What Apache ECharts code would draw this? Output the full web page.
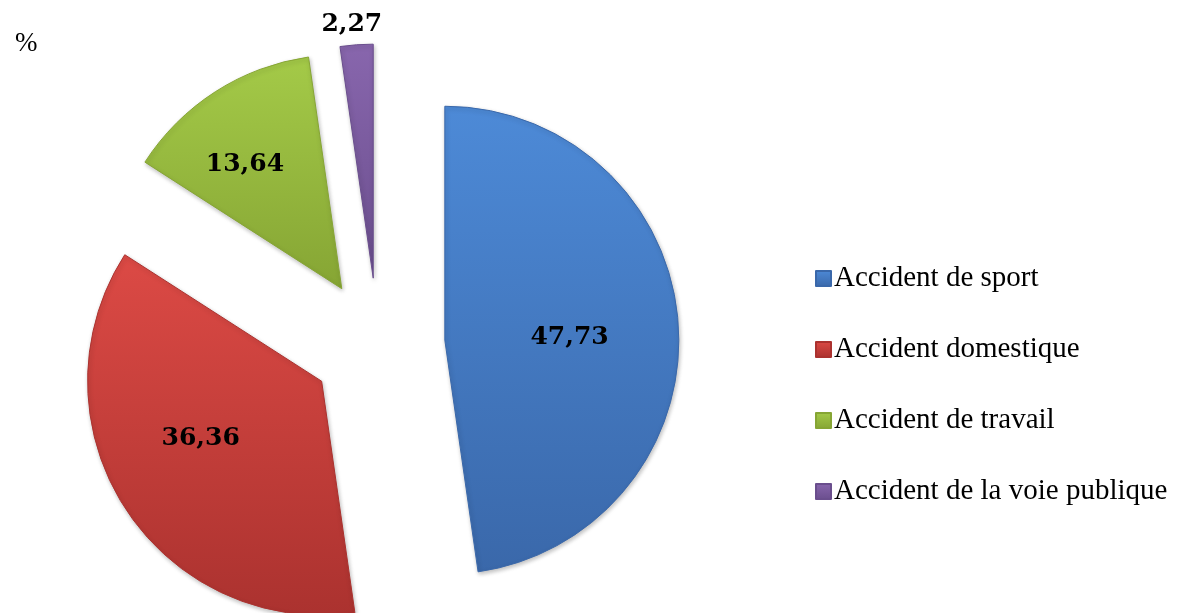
<!DOCTYPE html>
<html>
<head>
    <meta charset="utf-8">
    <title>ECharts</title>
    <script src="https://cdn.jsdelivr.net/npm/echarts@6/dist/echarts.min.js"></script>
    <style>
        html, body {
            width: 100%;
            height: 100%;
            margin: 0;
            background: #ffffff;
        }
    </style>
</head>
<body>
    <div id="main" style="width: 1179px;height:613px;"></div>
    <script type="text/javascript">
        var categories = ['Accident de sport', 'Accident domestique', 'Accident de travail', 'Accident de la voie publique'];
        var values = [47.73, 36.36, 13.64, 2.27];
        var colorsLight = ['#4d8ad7', '#dc4a45', '#a4ca48', '#8866ad'];
        var colorsDark = ['#3a68aa', '#ab322f', '#86a534', '#6a4e8d'];
        // small nudges of the value labels, [dx, dy]
        var labelNudge = [[5, 6], [-20, -8], [-32, -23], [31, -16]];

        var myChart = echarts.init(document.getElementById('main'));

        var data = categories.map(function (name, i) {
            var item = {
                name: name,
                value: values[i],
                selected: true,
                itemStyle: {
                    color: {
                        type: 'linear', x: 0, y: 0, x2: 0, y2: 1,
                        colorStops: [
                            { offset: 0, color: colorsLight[i] },
                            { offset: 1, color: colorsDark[i] }
                        ]
                    },
                    borderColor: colorsDark[i],
                    borderWidth: 1,
                    shadowColor: 'rgba(0,0,0,0.25)',
                    shadowBlur: 4,
                    shadowOffsetX: 1,
                    shadowOffsetY: 2
                }
            };
            if (i === 3) {
                item.label = { position: 'outside' };
                item.labelLine = { show: false, length: 4, length2: 0 };
            }
            return item;
        });

        var option = {
            animation: false,
            title: {
                text: '%',
                left: 10,
                top: 25,
                textStyle: {
                    fontFamily: 'Liberation Serif',
                    fontSize: 27,
                    fontWeight: 'normal',
                    color: '#000'
                }
            },
            legend: {
                orient: 'vertical',
                left: 810,
                top: 259,
                itemWidth: 15,
                itemHeight: 15,
                itemGap: 42,
                icon: 'rect',
                data: categories,
                selectedMode: false,
                textStyle: {
                    fontFamily: 'Liberation Serif',
                    fontSize: 29,
                    color: '#000',
                    padding: [0, 0, 0, -2]
                }
            },
            series: [
                {
                    type: 'pie',
                    center: [378, 345],
                    radius: [0, 234],
                    startAngle: 90,
                    clockwise: true,
                    selectedMode: 'multiple',
                    selectedOffset: 67,
                    emphasis: { disabled: true },
                    label: {
                        position: 'inside',
                        formatter: function (p) {
                            return p.value.toFixed(2).replace('.', ',');
                        },
                        fontFamily: 'DejaVu Serif',
                        fontWeight: 'bold',
                        fontSize: 25,
                        color: '#000'
                    },
                    labelLayout: function (params) {
                        var n = labelNudge[params.dataIndex];
                        return { dx: n[0], dy: n[1] };
                    },
                    data: data
                }
            ]
        };

        myChart.setOption(option);
    </script>
</body>
</html>
